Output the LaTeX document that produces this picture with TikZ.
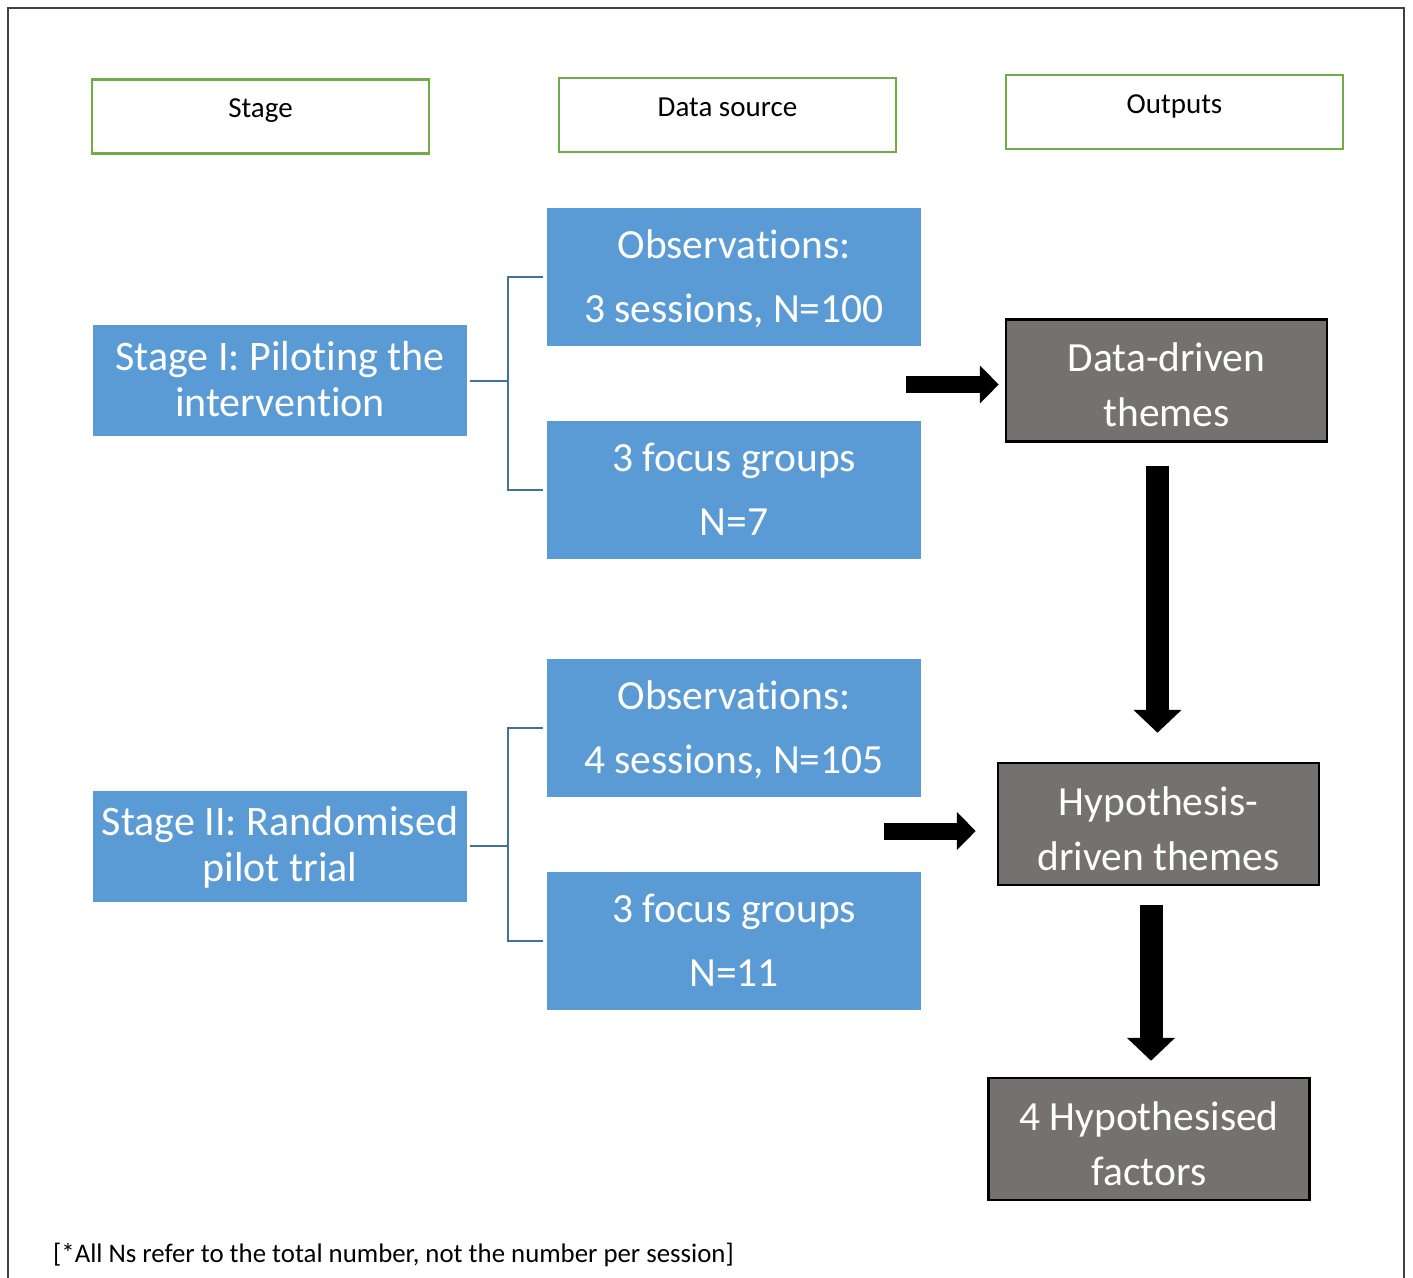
\documentclass[tikz,border=0pt]{standalone}
\usepackage{fontspec}
\setmainfont{Carlito}[Ligatures={NoCommon}]
\usetikzlibrary{arrows.meta,calc}
\definecolor{hgreen}{HTML}{70AD47}
\definecolor{boxblue}{HTML}{5B9BD5}
\definecolor{linkblue}{HTML}{41719C}
\definecolor{themegray}{HTML}{767171}
\definecolor{framegray}{HTML}{404040}

\begin{document}
\begin{tikzpicture}[x=1pt,y=-1pt,
  hdr/.style={draw=hgreen, line width=2.5pt, minimum width=337pt, minimum height=74pt, inner sep=0pt},
  hdrtext/.style={anchor=base, font=\fontsize{29}{34}\selectfont, inner sep=0pt},
  stagebox/.style={fill=boxblue, text=white, minimum width=374pt, minimum height=111pt, inner sep=0pt,
    align=center, text height=75pt, text depth=4pt, font=\fontsize{42}{46}\selectfont},
  srcbox/.style={fill=boxblue, text=white, minimum width=374pt, minimum height=138pt, inner sep=0pt,
    align=center, text height=97pt, text depth=6pt, font=\fontsize{41.5}{64}\selectfont},
  themebox/.style={fill=themegray, draw=black, line width=2.5pt, text=white, minimum width=321pt,
    minimum height=122pt, inner sep=0pt, align=center, text height=92pt, text depth=0pt,
    font=\fontsize{41.5}{55}\selectfont},
  bracket/.style={draw=linkblue, line width=2pt},
  blockarrow/.style={line width=17pt, -{Triangle[width=37pt,length=19pt]}},
  vblockarrow/.style={line width=23pt, -{Triangle[width=47pt,length=23pt]}},
]
\useasboundingbox (0,0) rectangle (1413,1277);
\fill[white] (0,0) rectangle (1413,1277);

% outer frame (open at the bottom edge of the page)
\draw[framegray, line width=2pt] (8,1300) -- (8,8) -- (1404,8) -- (1404,1300);

% column headers
\node[hdr] (hs) at (260.5,116.5) {};
\node[hdrtext] (hst) at ([yshift=-1pt]hs.center) {Stage};
\node[hdr] (hd) at (727.5,115) {};
\node[hdrtext] (hdt) at ([yshift=-1.5pt]hd.center) {Data source};
\node[hdr] (ho) at (1174.5,112) {};
\node[hdrtext] (hot) at ([yshift=-1pt]ho.center) {Outputs};

% stage I
\node[stagebox] (s1) at (280,380.5) {Stage I: Piloting the\\intervention};
\node[srcbox] (o1) at (734,277) {Observations:\\3 sessions, N=100};
\node[srcbox] (f1) at (734,490) {3 focus groups\\N=7};

% stage II
\node[stagebox] (s2) at (280,846) {Stage II: Randomised\\pilot trial};
\node[srcbox] (o2) at (734,728) {Observations:\\4 sessions, N=105};
\node[srcbox] (f2) at (734,941) {3 focus groups\\N=11};

% outputs
\node[themebox] (dd) at (1166.5,380.5) {Data-driven\\themes};
\node[themebox] (hy) at (1158.5,824) {Hypothesis-\\driven themes};
\node[themebox] (hf) at (1149,1139) {4 Hypothesised\\factors};

% brackets linking stages to data sources
\draw[bracket] ([xshift=3pt]s1.east) -- ++(38,0) coordinate (j1);
\draw[bracket] ([xshift=-4pt]o1.west) -| (j1) |- ([xshift=-4pt]f1.west);
\draw[bracket] ([xshift=3pt]s2.east) -- ++(38,0) coordinate (j2);
\draw[bracket] ([xshift=-4pt]o2.west) -| (j2) |- ([xshift=-4pt]f2.west);

% block arrows
\coordinate (a1) at (906,384.5);
\draw[blockarrow] (a1) -- ($(dd.west)+(-6,4)$);
\coordinate (a2) at (884,831);
\draw[blockarrow] (a2) -- ($(hy.west)+(-21,7)$);
\draw[vblockarrow] ($(dd.south)+(-9,23)$) -- ($(hy.north)+(-1,-29)$);
\draw[vblockarrow] ($(hy.south)+(-7.5,19)$) -- ($(hf.north)+(2,-16)$);

% footnote
\node[anchor=base west, inner sep=0pt, font=\fontsize{26.8}{32}\selectfont] (note) at (53,1262)
  {[*All Ns refer to the total number, not the number per session]};
\end{tikzpicture}
\end{document}
